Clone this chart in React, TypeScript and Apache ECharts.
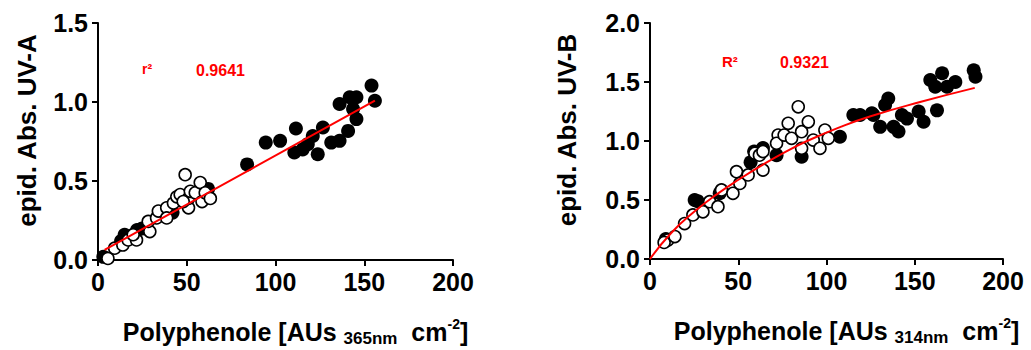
import React, { useEffect, useRef } from "react";
import * as echarts from "echarts";

// ---- Data ----
const xTicks = [0, 50, 100, 150, 200];

// Left panel (UV-A vs Polyphenole 365nm)
const leftFilled: [number, number][] = [
  [3, 0.02], [13, 0.12], [15, 0.16], [17, 0.14], [22, 0.19], [25, 0.2], [42, 0.3], [62, 0.45],
  [84, 0.605], [94.5, 0.743], [102.6, 0.754], [111.5, 0.832], [110.6, 0.68], [115.3, 0.7],
  [118.2, 0.733], [121, 0.785], [123.8, 0.669], [126.7, 0.839], [131.4, 0.743], [136.1, 0.754],
  [140.9, 0.817], [145.6, 0.892], [143.7, 0.955], [136.1, 0.987], [141.8, 1.03], [145.6, 1.03],
  [154.1, 1.104], [156, 1.008],
];
const leftOpen: [number, number][] = [
  [5.6, 0.01], [9.4, 0.075], [14, 0.095], [17, 0.127], [21.7, 0.127], [19.8, 0.16], [29.2, 0.18],
  [28.3, 0.244], [33, 0.266], [34, 0.31], [38.7, 0.33], [38.7, 0.266], [42.5, 0.36], [44.4, 0.4],
  [46.3, 0.414], [49.1, 0.54], [51, 0.33], [51, 0.39], [48, 0.37], [52, 0.435], [54.8, 0.425],
  [57.6, 0.49], [58.6, 0.37], [60.4, 0.425], [63.3, 0.39],
];
const leftFit: [number, number][] = [[3.7, 0.064], [156, 1.008]];
const leftR2Label = "r²";
const leftR2Value = "0.9641";

// Right panel (UV-B vs Polyphenole 314nm)
const rightFilled: [number, number][] = [
  [9, 0.17], [25.3, 0.5], [27, 0.49], [39.5, 0.557], [57, 0.82], [59, 0.91], [64, 0.94],
  [71.7, 0.88], [85.9, 0.867], [107.6, 1.036], [115.2, 1.22], [119, 1.22], [125.7, 1.235],
  [126.6, 1.22], [130.4, 1.12], [133.2, 1.305], [135, 1.36], [138, 1.12], [140.8, 1.08],
  [142.7, 1.22], [145.6, 1.19], [152.2, 1.25], [155, 1.163], [162.6, 1.26], [158.8, 1.517],
  [161.6, 1.46], [165.5, 1.574], [168.3, 1.46], [173, 1.5], [183.4, 1.6], [184.4, 1.545],
];
const rightOpen: [number, number][] = [
  [10.1, 0.161], [8, 0.14], [14.1, 0.19], [19.6, 0.3], [24.3, 0.373], [30, 0.4], [33.8, 0.486],
  [38.5, 0.443], [40.5, 0.585], [47, 0.557], [49, 0.74], [50.9, 0.64], [55.6, 0.712], [64, 0.754],
  [59.4, 0.896], [62, 0.88], [64, 0.91], [72.6, 1.05], [71.7, 0.98], [76, 1.05], [78.3, 1.15],
  [84, 1.29], [80.2, 1.023], [85.9, 1.079], [89.7, 1.163], [92.5, 1.008], [96.3, 0.938],
  [99.1, 1.093], [101, 1.023], [85.9, 0.938],
];
const rightFit: [number, number][] = [
  [0, 0], [12, 0.22], [25, 0.4], [38, 0.55], [51, 0.68], [64, 0.8], [77, 0.91], [89, 1.0],
  [108, 1.12], [125, 1.21], [153, 1.33], [184, 1.45],
];
const rightR2Label = "R²";
const rightR2Value = "0.9321";

const FONT = "Liberation Sans, Arial, sans-serif";

function xAxisFor(gridIndex: number, sub: string) {
  return {
    type: "value",
    gridIndex,
    min: xTicks[0],
    max: xTicks[xTicks.length - 1],
    interval: 50,
    axisLine: { show: true, onZero: false, lineStyle: { color: "#000", width: 2 } },
    axisTick: { show: true, length: 6, lineStyle: { color: "#000", width: 2 } },
    splitLine: { show: false },
    axisLabel: { color: "#000", fontSize: 25, fontWeight: "bold", fontFamily: FONT, margin: 9 },
    name: `{b|Polyphenole [AUs }{sub|${sub}}{b|  cm}{sup|-2}{b|]}`,
    nameLocation: "middle",
    nameGap: 57,
    nameTextStyle: {
      padding: [0, 0, 0, 40],
      rich: {
        b: { fontSize: 25, fontWeight: "bold", fontFamily: FONT, color: "#000", lineHeight: 30 },
        sub: { fontSize: 17, fontWeight: "bold", fontFamily: FONT, color: "#000", lineHeight: 14, verticalAlign: "bottom" },
        sup: { fontSize: 14, fontWeight: "bold", fontFamily: FONT, color: "#000", lineHeight: 14, verticalAlign: "top" },
      },
    },
  };
}

function yAxisFor(gridIndex: number, max: number, name: string, gap: number) {
  return {
    type: "value",
    gridIndex,
    min: 0,
    max,
    interval: 0.5,
    axisLine: { show: true, onZero: false, lineStyle: { color: "#000", width: 2 } },
    axisTick: { show: true, length: 6, lineStyle: { color: "#000", width: 2 } },
    splitLine: { show: false },
    axisLabel: {
      color: "#000", fontSize: 25, fontWeight: "bold", fontFamily: FONT, margin: 10,
      formatter: (v: number) => v.toFixed(1),
    },
    name,
    nameLocation: "middle",
    nameGap: gap,
    nameRotate: 90,
    nameTextStyle: { color: "#000", fontSize: 26, fontWeight: "bold", fontFamily: FONT, padding: [0, 0, 0, 22] },
  };
}

function filledSeries(data: [number, number][], idx: number) {
  return {
    type: "scatter", xAxisIndex: idx, yAxisIndex: idx, data, symbol: "circle", symbolSize: 14,
    itemStyle: { color: "#000", borderColor: "#000", borderWidth: 0, opacity: 1 }, z: 2,
  };
}
function openSeries(data: [number, number][], idx: number) {
  return {
    type: "scatter", xAxisIndex: idx, yAxisIndex: idx, data, symbol: "circle", symbolSize: 12,
    itemStyle: { color: "#fff", borderColor: "#000", borderWidth: 1.6, opacity: 1 }, z: 3,
  };
}
function fitSeries(data: [number, number][], idx: number, smooth: boolean) {
  return {
    type: "line", xAxisIndex: idx, yAxisIndex: idx, data, smooth, showSymbol: false, symbol: "none",
    lineStyle: { color: "#ff0000", width: 2 }, z: 4, silent: true,
  };
}

export default function App() {
  const ref = useRef<HTMLDivElement>(null);
  useEffect(() => {
    document.body.style.margin = "0";
    if (!ref.current) return;
    const chart = echarts.init(ref.current, null, { renderer: "svg" });
    chart.setOption({
      animation: false,
      backgroundColor: "#fff",
      grid: [
        { left: 98, top: 23, width: 355, height: 237, outerBoundsMode: "none", containLabel: false },
        { left: 650, top: 23, width: 353, height: 236, outerBoundsMode: "none", containLabel: false },
      ],
      xAxis: [xAxisFor(0, "365nm"), xAxisFor(1, "314nm")],
      yAxis: [yAxisFor(0, 1.5, "epid. Abs. UV-A", 58), yAxisFor(1, 2.0, "epid. Abs. UV-B", 70)],
      series: [
        filledSeries(leftFilled, 0),
        openSeries(leftOpen, 0),
        fitSeries(leftFit, 0, false),
        filledSeries(rightFilled, 1),
        openSeries(rightOpen, 1),
        fitSeries(rightFit, 1, true),
      ],
      graphic: [
        { type: "text", x: 142, y: 62, style: { text: leftR2Label, fill: "#ff0000", font: `bold 14px ${FONT}` } },
        { type: "text", x: 196, y: 62, style: { text: leftR2Value, fill: "#ff0000", font: `bold 16px ${FONT}` } },
        { type: "text", x: 722, y: 54, style: { text: rightR2Label, fill: "#ff0000", font: `bold 15px ${FONT}` } },
        { type: "text", x: 780, y: 54, style: { text: rightR2Value, fill: "#ff0000", font: `bold 16px ${FONT}` } },
      ],
    });
    return () => chart.dispose();
  }, []);
  return <div ref={ref} style={{ width: 1031, height: 350 }} />;
}
